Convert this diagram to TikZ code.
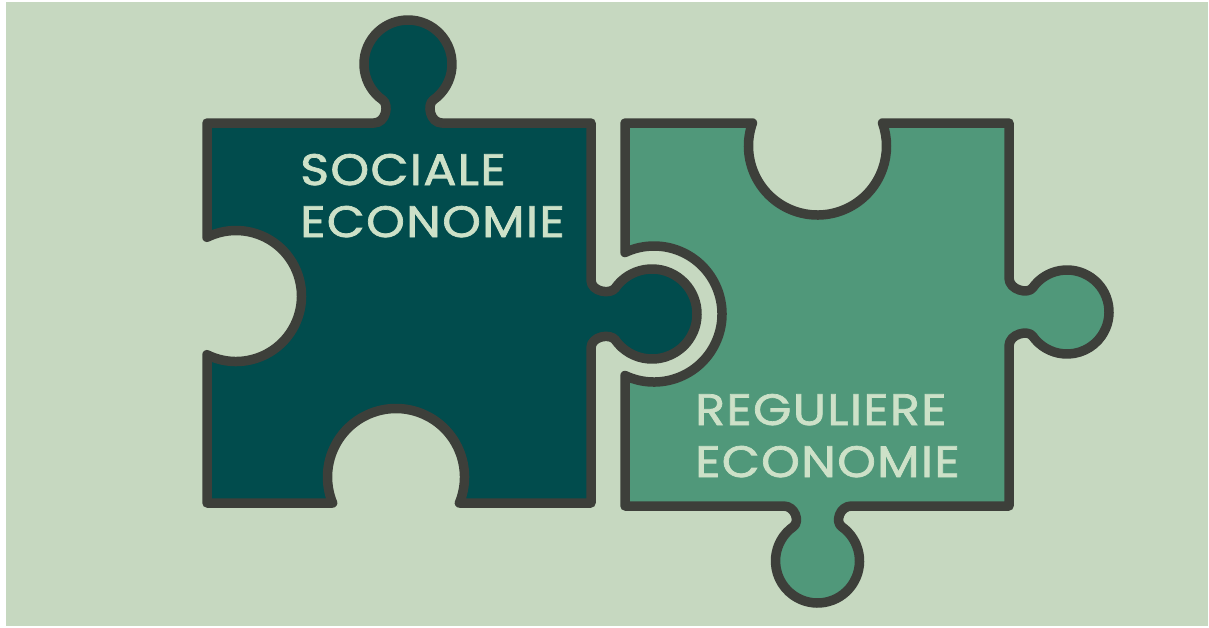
\documentclass[tikz,border=0pt]{standalone}
\usepackage{fontspec}
\setmainfont{Poppins}
\newfontfamily\labelfont{Poppins}[FakeBold=1.6,FakeStretch=1.12,LetterSpace=3]
\definecolor{bgc}{RGB}{198,216,192}
\definecolor{tealc}{RGB}{1,76,77}
\definecolor{greenc}{RGB}{80,152,122}
\definecolor{linec}{RGB}{61,63,58}
\definecolor{textc}{RGB}{205,225,200}
% tab with neck: origin x, origin y, rotation, head distance, head radius
\newcommand\tabseg[5]{%
{[shift={(#1,#2)},rotate=#3] -- (-34,0) .. controls (-22,0) and ({-0.5736*#5+6.55},{#4-0.8192*#5-4.59}) .. ({-0.5736*#5},{#4-0.8192*#5}) arc[start angle=235,end angle=-55,radius=#5] .. controls ({0.5736*#5-6.55},{#4-0.8192*#5-4.59}) and (22,0) .. (34,0)}}
% round notch: origin x, origin y, rotation, centre depth, radius
\newcommand\notchseg[5]{%
{[shift={(#1,#2)},rotate=#3] -- ({-sqrt(#5*#5-#4*#4)},0) arc[start angle={180-asin(#4/#5)},end angle={360+asin(#4/#5)},radius=#5]}}
\begin{document}
\begin{tikzpicture}[x=1pt,y=1pt,
  piece/.style={draw=linec,line width=9.5pt,line join=round},
  label/.style={anchor=base west,inner sep=0pt,text=textc,font=\labelfont\fontsize{44}{52}\selectfont}]
\useasboundingbox (0,0) rectangle (1209,-627);
\fill[white] (0,0) rectangle (1209,-627);
\fill[bgc] (6,-2) rectangle (1208,-626);
% left piece
\path[piece,fill=tealc] (207,-123)
  \tabseg{408}{-123}{0}{59}{44} -- (591,-123)
  \tabseg{591}{-314}{-90}{61}{45} -- (591,-503)
  \notchseg{396}{-503}{180}{26}{68.5} -- (207,-503)
  \notchseg{207}{-296}{90}{29}{65.5} -- cycle;
% right piece
\path[piece,fill=greenc] (625,-123)
  \notchseg{817.5}{-123}{0}{23}{69} -- (1009,-123)
  \tabseg{1009}{-312}{-90}{58}{42} -- (1009,-506)
  \tabseg{817.5}{-506}{180}{55}{42} -- (625,-506)
  \notchseg{625}{-314}{90}{29}{68} -- cycle;
\node[label] (soc1) at (300,-185) {SOCIALE};
\node[label] (soc2) at (300,-237) {ECONOMIE};
\node[label] (reg1) at (695,-425) {REGULIERE};
\node[label] (reg2) at (695,-477) {ECONOMIE};
\end{tikzpicture}
\end{document}
